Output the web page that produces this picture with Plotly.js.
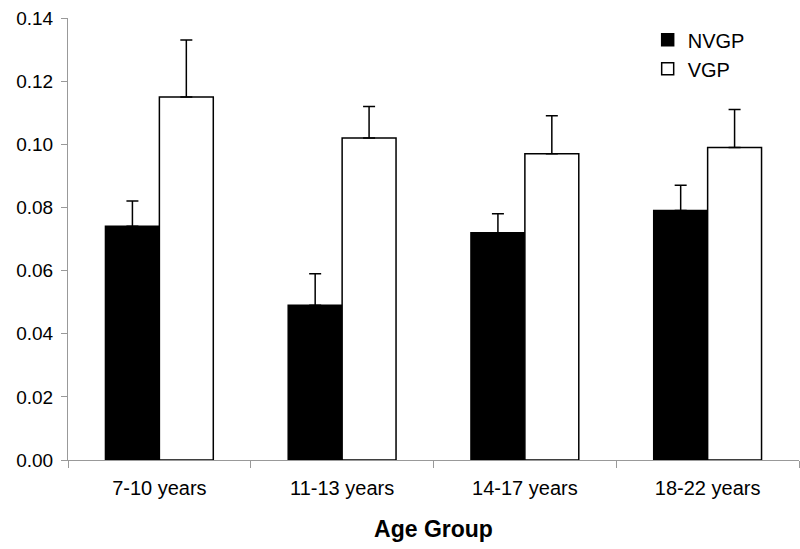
<!DOCTYPE html>
<html>
<head>
<meta charset="utf-8">
<script src="https://cdn.plot.ly/plotly-3.0.1.min.js"></script>
<style>html,body{margin:0;padding:0;background:#fff;}#chart{width:800px;height:549px;}</style>
</head>
<body>
<div id="chart"></div>
<script>
var categories = ["7-10 years", "11-13 years", "14-17 years", "18-22 years"];
var nvgpValues = [0.074, 0.049, 0.072, 0.079];
var nvgpErrors = [0.008, 0.010, 0.006, 0.008];
var vgpValues = [0.115, 0.102, 0.097, 0.099];
var vgpErrors = [0.018, 0.010, 0.012, 0.012];
var zeros = [0, 0, 0, 0];

var traces = [
  {
    type: "bar", name: "NVGP", x: categories, y: nvgpValues,
    marker: {color: "#000000", line: {color: "#000000", width: 1.5}},
    error_y: {type: "data", symmetric: false, array: nvgpErrors, arrayminus: zeros, color: "#000000", thickness: 1.5, width: 6}
  },
  {
    type: "bar", name: "VGP", x: categories, y: vgpValues,
    marker: {color: "#ffffff", line: {color: "#000000", width: 1.5}},
    error_y: {type: "data", symmetric: false, array: vgpErrors, arrayminus: zeros, color: "#000000", thickness: 1.5, width: 6}
  }
];

var layout = {
  width: 800, height: 549,
  margin: {l: 68, r: 1, t: 18, b: 89},
  paper_bgcolor: "#ffffff", plot_bgcolor: "#ffffff",
  barmode: "group", bargap: 0.41, bargroupgap: 0,
  font: {family: "Liberation Sans, Arial, sans-serif", color: "#000000", size: 18},
  showlegend: true,
  legend: {x: 0.793, y: 0.995, xanchor: "left", yanchor: "top", bgcolor: "rgba(0,0,0,0)",
           font: {size: 20}, tracegroupgap: 0, itemwidth: 30},
  xaxis: {
    type: "category", tickson: "boundaries", ticks: "outside", ticklen: 7, tickcolor: "#999999",
    showline: true, linecolor: "#999999", linewidth: 1, showgrid: false, zeroline: false,
    tickfont: {size: 20}, ticklabelstandoff: 10,
    title: {text: "<b>Age Group</b>", font: {size: 23}, standoff: 22}
  },
  yaxis: {
    range: [0, 0.14], dtick: 0.02, tickformat: ".2f", ticks: "outside", ticklen: 6, tickcolor: "#999999",
    showline: true, linecolor: "#999999", linewidth: 1, showgrid: false, zeroline: false,
    tickfont: {size: 19}, ticklabelstandoff: 4
  }
};

Plotly.newPlot("chart", traces, layout, {displayModeBar: false, staticPlot: true});
</script>
</body>
</html>
